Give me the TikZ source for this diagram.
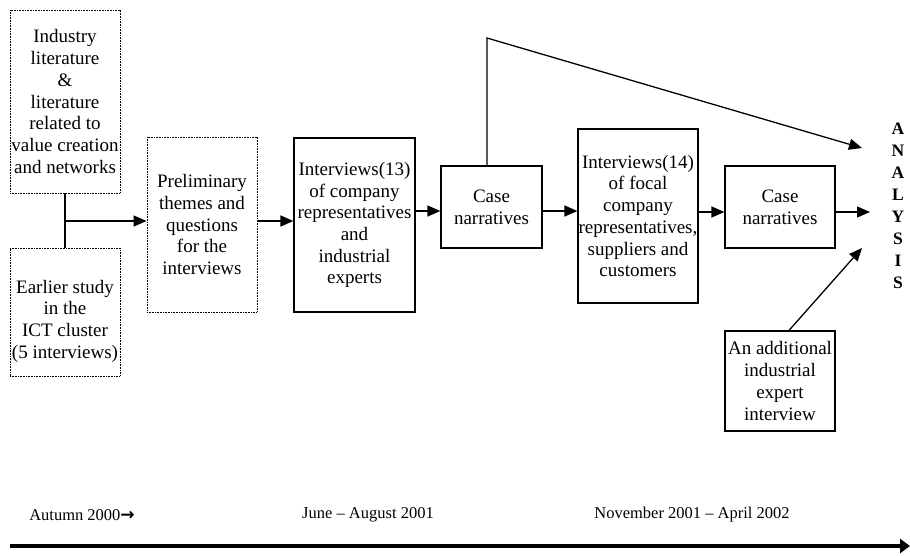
\documentclass[tikz,border=0pt]{standalone}
\usepackage{fontspec}
\setmainfont{Liberation Serif}
\newfontfamily\symfont{DejaVu Sans}
\usetikzlibrary{arrows.meta}

\begin{document}
\begin{tikzpicture}[x=1pt,y=-1pt,
  boxtext/.style={align=center, inner sep=0pt, font=\fontsize{19}{21.7}\selectfont},
  box/.style={boxtext, draw, line width=1.2pt},
  dotbox/.style={box, line width=0.8pt, dash pattern=on 0.8pt off 0.8pt},
  link/.style={line width=1.3pt},
  flow/.style={link, -{Triangle[length=13pt,width=11pt]}},
  period/.style={inner sep=0pt, font=\fontsize{16.5}{19}\selectfont},
]
\useasboundingbox (0,0) rectangle (910,555);

% sources
\node[dotbox, minimum width=110pt, minimum height=183pt] (lit) at (65,101.5)
  {Industry\\literature\\\&\\literature\\related to\\value creation\\and networks};
\node[dotbox, minimum width=110pt, minimum height=128pt] (early) at (65,312) {};
\node[boxtext] (earlytxt) at (65,321) {Earlier study\\in the\\ICT cluster\\(5 interviews)};

% research steps
\node[dotbox, minimum width=110pt, minimum height=175pt] (prelim) at (202,224.5)
  {Preliminary\\themes and\\questions\\for the\\interviews};
\node[box, minimum width=121pt, minimum height=174pt] (int13) at (354.5,225)
  {Interviews(13)\\of company\\representatives\\and\\industrial\\experts};
\node[box, minimum width=101pt, minimum height=82pt] (case1) at (491.5,207)
  {Case\\narratives};
\node[box, minimum width=120pt, minimum height=174pt] (int14) at (638,216)
  {Interviews(14)\\of focal\\company\\representatives,\\suppliers and\\customers};
\node[box, minimum width=110pt, minimum height=82pt] (case2) at (780,207)
  {Case\\narratives};
\node[box, minimum width=110pt, minimum height=100pt] (extra) at (780,381)
  {An additional\\industrial\\expert\\interview};

% analysis column
\node[align=center, inner sep=0pt, font=\fontsize{17.5}{22}\selectfont\bfseries] (analysis) at (898,206)
  {A\\N\\A\\L\\Y\\S\\I\\S};

% connector helpers
\coordinate (junc) at (65,221);
\coordinate (r1) at (0,211);
\coordinate (r2) at (0,212);
\coordinate (top) at (487,38);
\coordinate (atop) at (862,148);
\coordinate (amid) at (870,212);
\coordinate (alow) at (862,248);

\draw[link] (lit.south) -- (early.north);
\draw[flow] (junc) -- (junc -| prelim.west);
\draw[flow] (prelim.east |- junc) -- (int13.west |- junc);
\draw[flow] (int13.east |- r1) -- (case1.west |- r1);
\draw[flow] (case1.east |- r1) -- (int14.west |- r1);
\draw[flow] (int14.east |- r2) -- (case2.west |- r2);
\draw[flow] (case2.east |- r2) -- (amid);
\draw[flow] (top |- case1.north) -- (top) -- (atop);
\draw[flow] ([xshift=9pt]extra.north) -- (alow);

% time line
\coordinate (tl0) at (10,546);
\coordinate (tl1) at (910,546);
\draw[line width=4.5pt, -{Triangle[length=10pt,width=14pt]}] (tl0) -- (tl1);
\node[period] (t1) at (82,515) {Autumn 2000{\symfont\bfseries\fontsize{17}{19}\selectfont →}};
\node[period] (t2) at (368,515) {June – August 2001};
\node[period] (t3) at (692,515) {November 2001 – April 2002};
\end{tikzpicture}
\end{document}
